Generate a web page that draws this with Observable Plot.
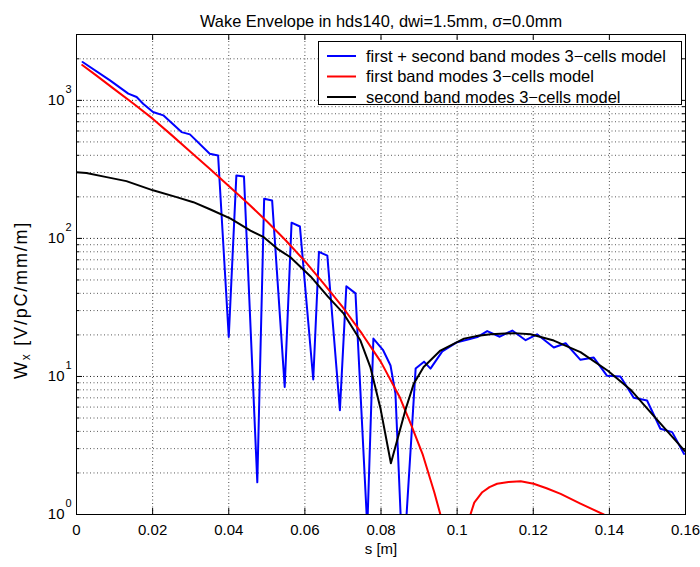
<!DOCTYPE html>
<html><head><meta charset="utf-8">
<script src="https://cdn.jsdelivr.net/npm/d3@7"></script>
<script src="https://cdn.jsdelivr.net/npm/@observablehq/plot@0.6"></script>
<style>body{margin:0;background:#fff} #chart svg{display:block}</style>
</head><body><div id="chart"></div>
<script>
const title = "Wake Envelope in hds140, dwi=1.5mm, σ=0.0mm";
const xLabel = "s [m]";
const yLabelMain = "W", yLabelSub = "x", yLabelRest = " [V/pC/mm/m]";
const seriesNames = ["first + second band modes 3−cells model", "first band modes 3−cells model", "second band modes 3−cells model"];
const seriesColors = ["#0000ff", "#ff0000", "#000000"];
const xTicks = [0, 0.02, 0.04, 0.06, 0.08, 0.1, 0.12, 0.14, 0.16];
const yDecades = [1, 10, 100, 1000];
const yMinor = [2,3,4,5,6,7,8,9,20,30,40,50,60,70,80,90,200,300,400,500,600,700,800,900,2000];

// first + second band (blue)
const sBoth = [0.0016,0.0088,0.0136,0.0158,0.0175,0.0201,0.0228,0.0276,0.0298,0.0350,0.0372,0.0400,0.0420,0.0440,0.0475,0.0493,0.0514,0.0547,0.0565,0.0587,0.0622,0.0637,0.0659,0.0692,0.0709,0.0733,0.0764,0.0780,0.0805,0.0825,0.0838,0.0853,0.0865,0.0891,0.0913,0.0930,0.0961,0.1000,0.1031,0.1053,0.1079,0.1112,0.1145,0.1180,0.1210,0.1254,0.1285,0.1324,0.1359,0.1394,0.1429,0.1464,0.1499,0.1534,0.1565,0.1596];
const wBoth = [1897,1396,1119,1057,946,823,779,589,567,411,399,19.3,286,281,1.71,194,188,8.4,130,122,9.5,80,75,5.7,45,40,0.8,18.8,15.6,12.0,7.5,0.8,0.8,11.4,12.8,11.4,15.2,17.7,18.6,19.3,21.3,19.4,21.5,18.3,20.2,16.2,17.4,13.2,13.7,10.1,10.0,7.0,6.7,4.18,3.95,2.75];
// first band (red)
const sFirst = [0.0015,0.005,0.01,0.015,0.02,0.025,0.03,0.035,0.04,0.045,0.05,0.055,0.06,0.065,0.07,0.075,0.08,0.085,0.088,0.091,0.094,0.0956,0.0962,0.099,0.1030,0.1035,0.1045,0.1066,0.1085,0.1105,0.1135,0.1167,0.1201,0.1235,0.1272,0.1324,0.1385,0.1405];
const wFirst = [1803,1531,1202,944,737,560,422,320,240,180,133,96.6,68.4,46.8,31.6,20.4,12.7,7.0,4.4,2.7,1.45,1.0,0.8,null,0.8,1.0,1.22,1.45,1.58,1.67,1.72,1.74,1.67,1.55,1.41,1.2,1.0,0.94];
// second band (black)
const sSecond = [0,0.0026,0.0079,0.0131,0.0201,0.0263,0.0307,0.0352,0.0405,0.0457,0.0492,0.0528,0.0562,0.0615,0.0660,0.0702,0.0746,0.0772,0.0799,0.0826,0.0864,0.0886,0.0912,0.0956,0.1000,0.1018,0.1050,0.1088,0.1149,0.1193,0.1254,0.1324,0.1396,0.1458,0.1528,0.1598];
const wSecond = [302,298,278,260,223,199,183,162,139,114,102,84,73,53,38,28.5,18.2,11.7,5.8,2.35,5.7,8.85,11.7,15.4,17.7,18.8,19.6,20.2,20.6,20.2,18.2,15.0,11.0,7.9,4.77,2.89];

const toRows = (s, w) => s.map((v, i) => ({s: v, w: w[i]}));
const both = toRows(sBoth, wBoth), first = toRows(sFirst, wFirst), second = toRows(sSecond, wSecond);

const W = 700, H = 567, mL = 76, mR = 15, mT = 34, mB = 53;
const fw = W - mL - mR, fh = H - mT - mB;
const innerX = xTicks.slice(1, -1);
const innerY = yDecades.slice(1);
const gridStyle = {stroke: "#000", strokeDasharray: "1,2.5", strokeWidth: 1};

const plot = Plot.plot({
  width: W, height: H,
  marginLeft: mL, marginRight: mR, marginTop: mT, marginBottom: mB,
  style: {fontFamily: "'Liberation Sans', Arial, Helvetica, sans-serif", fontSize: "15px", background: "#fff", color: "#000"},
  x: {domain: [0, 0.16]},
  y: {type: "log", domain: [1, 3000], axis: null},
  marks: [
    Plot.ruleX(innerX, {...gridStyle, strokeOpacity: 0.7}),
    Plot.ruleY(innerY, {...gridStyle, strokeOpacity: 0.9}),
    Plot.ruleY(yMinor, {...gridStyle, strokeOpacity: 0.65}),
    Plot.line(both, {x: "s", y: "w", stroke: seriesColors[0], strokeWidth: 2, clip: true}),
    Plot.line(first, {x: "s", y: "w", stroke: seriesColors[1], strokeWidth: 2, clip: true}),
    Plot.line(second, {x: "s", y: "w", stroke: seriesColors[2], strokeWidth: 2, clip: true}),
    Plot.tickX(innerX, {x: d => d, insetTop: fh - 6, stroke: "#000"}),
    Plot.tickX(innerX, {x: d => d, insetBottom: fh - 6, stroke: "#000"}),
    Plot.tickY(innerY, {y: d => d, insetRight: fw - 6, stroke: "#000"}),
    Plot.tickY(innerY, {y: d => d, insetLeft: fw - 6, stroke: "#000"}),
    Plot.tickY(yMinor, {y: d => d, insetRight: fw - 3, stroke: "#000"}),
    Plot.tickY(yMinor, {y: d => d, insetLeft: fw - 3, stroke: "#000"}),
    Plot.frame({stroke: "#000"}),
    Plot.axisX({ticks: xTicks, tickSize: 0, tickPadding: 10, tickFormat: d => String(+d.toFixed(2)), label: null}),
    Plot.text(yDecades, {y: d => d, text: () => "10", frameAnchor: "left", dx: -12, textAnchor: "end"}),
    Plot.text(yDecades, {y: d => d, text: d => String(Math.round(Math.log10(d))), frameAnchor: "left", dx: -11, dy: -11, textAnchor: "start", fontSize: 11}),
    Plot.text([xLabel], {text: d => d, frameAnchor: "bottom", dy: 39}),
    Plot.text([title], {text: d => d, frameAnchor: "top", dy: -19, fontSize: 16.4})
  ]
});

const svg = d3.select(plot);
// y label with subscript
const yl = svg.append("text")
  .attr("transform", "translate(22,300) rotate(-90)")
  .attr("text-anchor", "middle").attr("dominant-baseline", "middle")
  .attr("font-size", 18).attr("letter-spacing", "1.8px").attr("fill", "#000");
yl.append("tspan").text(yLabelMain);
yl.append("tspan").attr("dy", 5).attr("font-size", 12).text(yLabelSub);
yl.append("tspan").attr("dy", -5).text(yLabelRest);

// legend
const lg = svg.append("g").attr("font-size", 16.5).attr("text-anchor", "start");
lg.append("rect").attr("x", 318.5).attr("y", 41.5).attr("width", 363).attr("height", 63)
  .attr("fill", "#fff").attr("stroke", "#000");
seriesNames.forEach((name, i) => {
  const y = 56 + i * 20.5;
  lg.append("line").attr("x1", 327).attr("x2", 356).attr("y1", y).attr("y2", y)
    .attr("stroke", seriesColors[i]).attr("stroke-width", 2);
  lg.append("text").attr("x", 366).attr("y", y).attr("dy", "0.35em").attr("text-anchor", "start").attr("fill", "#000").text(name);
});

document.getElementById("chart").appendChild(plot);
</script>
</body></html>
